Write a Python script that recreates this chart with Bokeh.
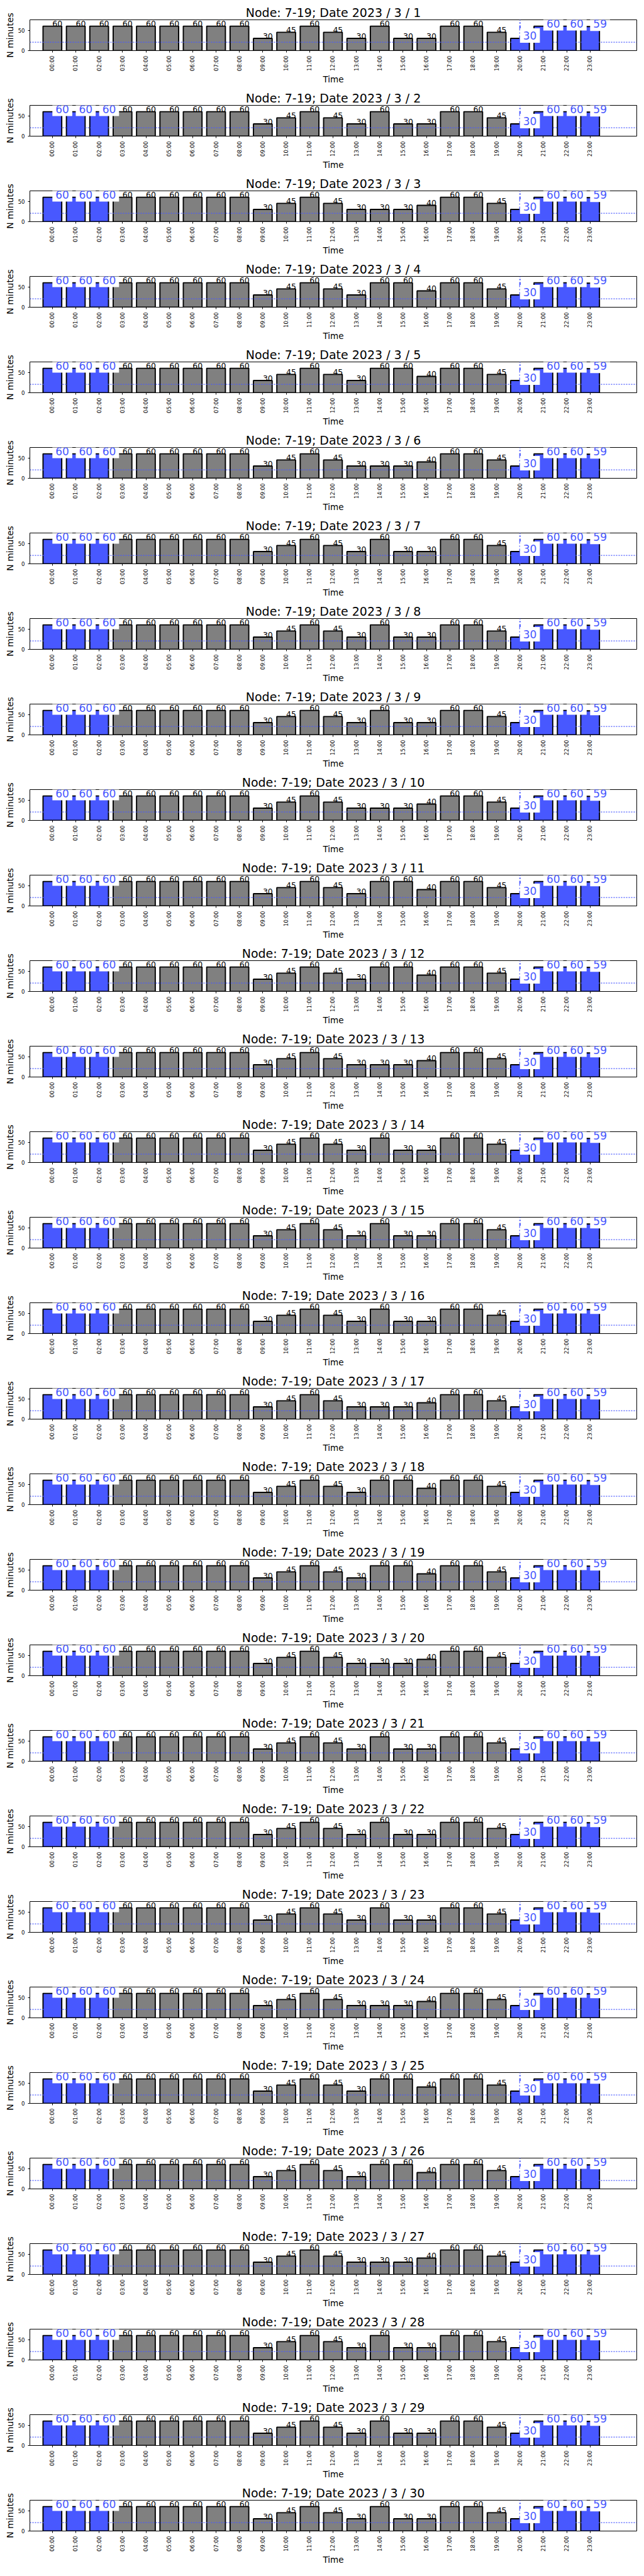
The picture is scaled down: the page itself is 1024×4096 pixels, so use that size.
import math
from bokeh.plotting import figure
from bokeh.layouts import column
from bokeh.models import ColumnDataSource, Range1d, FixedTicker, CustomJSTickFormatter, Label
from bokeh.core.properties import value
from bokeh.embed import file_html
from bokeh.resources import INLINE

# ---------------- data ----------------
node = "7-19"
hours = ["00:00", "01:00", "02:00", "03:00", "04:00", "05:00", "06:00", "07:00",
         "08:00", "09:00", "10:00", "11:00", "12:00", "13:00", "14:00", "15:00",
         "16:00", "17:00", "18:00", "19:00", "20:00", "21:00", "22:00", "23:00"]
dates = ["2023 / 3 / 1", "2023 / 3 / 2", "2023 / 3 / 3", "2023 / 3 / 4", "2023 / 3 / 5",
         "2023 / 3 / 6", "2023 / 3 / 7", "2023 / 3 / 8", "2023 / 3 / 9", "2023 / 3 / 10",
         "2023 / 3 / 11", "2023 / 3 / 12", "2023 / 3 / 13", "2023 / 3 / 14", "2023 / 3 / 15",
         "2023 / 3 / 16", "2023 / 3 / 17", "2023 / 3 / 18", "2023 / 3 / 19", "2023 / 3 / 20",
         "2023 / 3 / 21", "2023 / 3 / 22", "2023 / 3 / 23", "2023 / 3 / 24", "2023 / 3 / 25",
         "2023 / 3 / 26", "2023 / 3 / 27", "2023 / 3 / 28", "2023 / 3 / 29", "2023 / 3 / 30"]

minutes_by_day = [
    [60, 60, 60, 60, 60, 60, 60, 60, 60, 30, 45, 60, 45, 30, 60, 30, 30, 60, 60, 45, 30, 60, 60, 59],  # 3/1
    [60, 60, 60, 60, 60, 60, 60, 60, 60, 30, 45, 60, 45, 30, 60, 30, 30, 60, 60, 45, 30, 60, 60, 59],  # 3/2
    [60, 60, 60, 60, 60, 60, 60, 60, 60, 30, 45, 60, 45, 30, 30, 30, 40, 60, 60, 45, 30, 60, 60, 59],  # 3/3
    [60, 60, 60, 60, 60, 60, 60, 60, 60, 30, 45, 60, 45, 30, 60, 60, 40, 60, 60, 45, 30, 60, 60, 59],  # 3/4
    [60, 60, 60, 60, 60, 60, 60, 60, 60, 30, 45, 60, 45, 30, 60, 60, 40, 60, 60, 45, 30, 60, 60, 59],  # 3/5
    [60, 60, 60, 60, 60, 60, 60, 60, 60, 30, 45, 60, 45, 30, 30, 30, 40, 60, 60, 45, 30, 60, 60, 59],  # 3/6
    [60, 60, 60, 60, 60, 60, 60, 60, 60, 30, 45, 60, 45, 30, 60, 30, 30, 60, 60, 45, 30, 60, 60, 59],  # 3/7
    [60, 60, 60, 60, 60, 60, 60, 60, 60, 30, 45, 60, 45, 30, 60, 30, 30, 60, 60, 45, 30, 60, 60, 59],  # 3/8
    [60, 60, 60, 60, 60, 60, 60, 60, 60, 30, 45, 60, 45, 30, 60, 30, 30, 60, 60, 45, 30, 60, 60, 59],  # 3/9
    [60, 60, 60, 60, 60, 60, 60, 60, 60, 30, 45, 60, 45, 30, 30, 30, 40, 60, 60, 45, 30, 60, 60, 59],  # 3/10
    [60, 60, 60, 60, 60, 60, 60, 60, 60, 30, 45, 60, 45, 30, 60, 60, 40, 60, 60, 45, 30, 60, 60, 59],  # 3/11
    [60, 60, 60, 60, 60, 60, 60, 60, 60, 30, 45, 60, 45, 30, 60, 60, 40, 60, 60, 45, 30, 60, 60, 59],  # 3/12
    [60, 60, 60, 60, 60, 60, 60, 60, 60, 30, 45, 60, 45, 30, 30, 30, 40, 60, 60, 45, 30, 60, 60, 59],  # 3/13
    [60, 60, 60, 60, 60, 60, 60, 60, 60, 30, 45, 60, 45, 30, 60, 30, 30, 60, 60, 45, 30, 60, 60, 59],  # 3/14
    [60, 60, 60, 60, 60, 60, 60, 60, 60, 30, 45, 60, 45, 30, 60, 30, 30, 60, 60, 45, 30, 60, 60, 59],  # 3/15
    [60, 60, 60, 60, 60, 60, 60, 60, 60, 30, 45, 60, 45, 30, 60, 30, 30, 60, 60, 45, 30, 60, 60, 59],  # 3/16
    [60, 60, 60, 60, 60, 60, 60, 60, 60, 30, 45, 60, 45, 30, 30, 30, 40, 60, 60, 45, 30, 60, 60, 59],  # 3/17
    [60, 60, 60, 60, 60, 60, 60, 60, 60, 30, 45, 60, 45, 30, 60, 60, 40, 60, 60, 45, 30, 60, 60, 59],  # 3/18
    [60, 60, 60, 60, 60, 60, 60, 60, 60, 30, 45, 60, 45, 30, 60, 60, 40, 60, 60, 45, 30, 60, 60, 59],  # 3/19
    [60, 60, 60, 60, 60, 60, 60, 60, 60, 30, 45, 60, 45, 30, 30, 30, 40, 60, 60, 45, 30, 60, 60, 59],  # 3/20
    [60, 60, 60, 60, 60, 60, 60, 60, 60, 30, 45, 60, 45, 30, 60, 30, 30, 60, 60, 45, 30, 60, 60, 59],  # 3/21
    [60, 60, 60, 60, 60, 60, 60, 60, 60, 30, 45, 60, 45, 30, 60, 30, 30, 60, 60, 45, 30, 60, 60, 59],  # 3/22
    [60, 60, 60, 60, 60, 60, 60, 60, 60, 30, 45, 60, 45, 30, 60, 30, 30, 60, 60, 45, 30, 60, 60, 59],  # 3/23
    [60, 60, 60, 60, 60, 60, 60, 60, 60, 30, 45, 60, 45, 30, 30, 30, 40, 60, 60, 45, 30, 60, 60, 59],  # 3/24
    [60, 60, 60, 60, 60, 60, 60, 60, 60, 30, 45, 60, 45, 30, 60, 60, 40, 60, 60, 45, 30, 60, 60, 59],  # 3/25
    [60, 60, 60, 60, 60, 60, 60, 60, 60, 30, 45, 60, 45, 30, 60, 60, 40, 60, 60, 45, 30, 60, 60, 59],  # 3/26
    [60, 60, 60, 60, 60, 60, 60, 60, 60, 30, 45, 60, 45, 30, 30, 30, 40, 60, 60, 45, 30, 60, 60, 59],  # 3/27
    [60, 60, 60, 60, 60, 60, 60, 60, 60, 30, 45, 60, 45, 30, 60, 30, 30, 60, 60, 45, 30, 60, 60, 59],  # 3/28
    [60, 60, 60, 60, 60, 60, 60, 60, 60, 30, 45, 60, 45, 30, 60, 30, 30, 60, 60, 45, 30, 60, 60, 59],  # 3/29
    [60, 60, 60, 60, 60, 60, 60, 60, 60, 30, 45, 60, 45, 30, 60, 30, 30, 60, 60, 45, 30, 60, 60, 59],  # 3/30
]

# hours drawn in blue (highlighted) for each day
highlight_by_day = [[20, 21, 22, 23]] + [[0, 1, 2, 20, 21, 22, 23] for _ in range(29)]
current_hour = 20          # dash-dot vertical marker
reference_level = 20.7     # dotted horizontal line
y_ticks = [0, 50]
y_max = 75.6
x_lo, x_hi = -0.963, 24.995

# ---------------- style ----------------
GRAY = "#808080"
BLUE = "#4858ff"
FONT = "DejaVu Sans"
FIG_W, FIG_H = 1023, 136
B_LEFT, B_RIGHT, B_TOP, B_BOTTOM = 47, 11, 31, 51
FRAME_H = FIG_H - B_TOP - B_BOTTOM
PX_PER_UNIT = FRAME_H / y_max
BLACK_LIFT_PX = 4.3     # centre of black value text above bar top
BLUE_LIFT_PX = 5.0      # centre of boxed blue value text above bar top

figs = []
for k in range(len(dates)):
    vals = minutes_by_day[k]
    hl = set(highlight_by_day[k])
    p = figure(width=FIG_W, height=FIG_H,
               x_range=Range1d(x_lo, x_hi), y_range=Range1d(0, y_max),
               output_backend="svg", toolbar_location=None,
               min_border_left=B_LEFT, min_border_right=B_RIGHT,
               min_border_top=B_TOP, min_border_bottom=B_BOTTOM)
    p.title.text = f"Node: {node}; Date {dates[k]}"
    p.title.text_font = FONT
    p.title.text_font_size = "19px"
    p.title.text_font_style = "normal"
    p.title.text_color = "black"
    p.title.align = "center"
    p.title.standoff = 1

    p.xgrid.visible = False
    p.ygrid.visible = False
    p.outline_line_color = "black"
    p.outline_line_width = 1
    p.outline_line_alpha = 1.0
    p.background_fill_color = "white"
    p.border_fill_color = "white"

    idx = list(range(len(hours)))
    src = ColumnDataSource(dict(
        x=idx, top=vals,
        fill=[BLUE if i in hl else GRAY for i in idx],
    ))
    p.vbar(x="x", top="top", bottom=0, width=0.8, fill_color="fill",
           line_color="black", line_width=1.9, source=src)

    p.segment(x0=[x_lo], x1=[x_hi], y0=[reference_level], y1=[reference_level],
              line_color=BLUE, line_width=1.4, line_dash="2 2")
    p.segment(x0=[current_hour], x1=[current_hour], y0=[0], y1=[y_max],
              line_color=BLUE, line_width=2.2, line_dash="8 3 2 3")

    nx = [i for i in idx if i not in hl]
    lsrc = ColumnDataSource(dict(
        x=nx,
        y=[vals[i] + BLACK_LIFT_PX / PX_PER_UNIT for i in nx],
        t=[str(vals[i]) for i in nx]))
    p.text(x="x", y="y", text="t", source=lsrc, text_font=value(FONT),
           text_font_size="12.5px", text_color="black", text_align="left",
           text_baseline="middle")

    for i in sorted(hl):
        p.add_layout(Label(x=i, y=vals[i] + BLUE_LIFT_PX / PX_PER_UNIT, text=str(vals[i]),
                           text_font=FONT, text_font_size="17px", text_color=BLUE,
                           text_align="left", text_baseline="middle",
                           background_fill_color="white", background_fill_alpha=1.0,
                           padding=5))

    p.xaxis.ticker = FixedTicker(ticks=idx)
    p.xaxis.formatter = CustomJSTickFormatter(args=dict(labels=hours),
                                              code="return labels[Math.round(tick)];")
    p.xaxis.major_label_orientation = math.pi / 2
    p.yaxis.ticker = FixedTicker(ticks=y_ticks)
    p.xaxis.axis_label = "Time"
    p.yaxis.axis_label = "N minutes"
    for ax in (p.xaxis[0], p.yaxis[0]):
        ax.axis_line_color = None
        ax.minor_tick_line_color = None
        ax.major_tick_out = 3
        ax.major_tick_in = 0
        ax.major_tick_line_color = "black"
        ax.major_tick_line_width = 1
        ax.major_label_text_font = FONT
        ax.major_label_text_font_size = "8.5px"
        ax.major_label_text_color = "black"
        ax.major_label_standoff = 5
        ax.axis_label_text_font = FONT
        ax.axis_label_text_font_style = "normal"
        ax.axis_label_text_color = "black"
    p.xaxis.axis_label_text_font_size = "13.5px"
    p.xaxis.axis_label_standoff = 2
    p.yaxis.axis_label_text_font_size = "14px"
    p.yaxis.axis_label_standoff = 2
    figs.append(p)

layout = column(*figs, spacing=0)
open("out.html", "w").write(file_html(layout, INLINE))
